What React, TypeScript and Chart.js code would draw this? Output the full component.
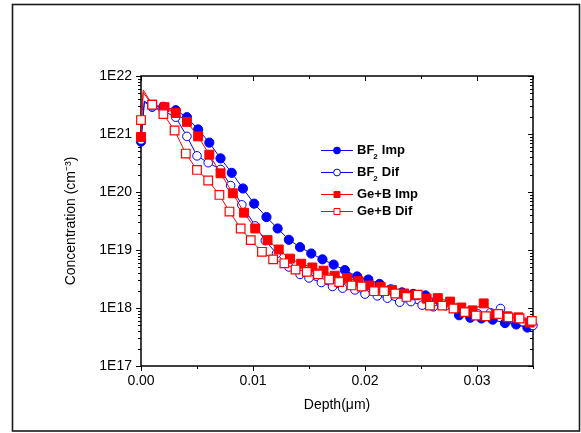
import React, { useEffect, useRef } from 'react';
import { Chart, registerables } from 'chart.js';

Chart.register(...registerables);

// ---- data (depth in µm, concentration in cm^-3) ----
const bf2ImpDepth = [0, 0.0003, 0.001, 0.002, 0.0031, 0.0041, 0.0051, 0.0061, 0.0071, 0.0081, 0.0091, 0.0101, 0.0112, 0.0122, 0.0132, 0.0142, 0.0152, 0.0162, 0.0172, 0.0182, 0.0193, 0.0203, 0.0213, 0.0223, 0.0233, 0.0243, 0.0254, 0.0264, 0.0274, 0.0284, 0.0294, 0.0304, 0.0314, 0.0325, 0.0335, 0.0345];
const bf2ImpConc = [7.4e20, 3.7e21, 2.95e21, 2.95e21, 2.57e21, 1.95e21, 1.2e21, 7.1e20, 3.8e20, 2.14e20, 1.15e20, 6.3e19, 3.7e19, 2.35e19, 1.5e19, 1.12e19, 8.7e18, 6.9e18, 5.6e18, 4.5e18, 3.5e18, 3.1e18, 2.6e18, 2.1e18, 1.86e18, 1.75e18, 1.65e18, 1.35e18, 1.15e18, 7.5e17, 6.8e17, 6.6e17, 6.3e17, 5.5e17, 5.2e17, 4.6e17];

const bf2DifDepth = [0, 0.0003, 0.001, 0.002, 0.0031, 0.0041, 0.005, 0.006, 0.0071, 0.008, 0.009, 0.0102, 0.0111, 0.0121, 0.0132, 0.0142, 0.015, 0.0161, 0.0171, 0.018, 0.0191, 0.02, 0.0211, 0.022, 0.0231, 0.0241, 0.0251, 0.0261, 0.0272, 0.0281, 0.0291, 0.0301, 0.0312, 0.0321, 0.0331, 0.0341, 0.035];
const bf2DifConc = [7.9e20, 3.55e21, 2.95e21, 2.5e21, 1.95e21, 9.1e20, 4.2e20, 3.2e20, 2.45e20, 1.29e20, 6.0e19, 2.6e19, 1.45e19, 8.7e18, 5.1e18, 3.8e18, 3.3e18, 2.75e18, 2.35e18, 2.2e18, 2.05e18, 1.74e18, 1.62e18, 1.48e18, 1.26e18, 1.29e18, 1.12e18, 1.05e18, 1.1e18, 9.8e17, 8.5e17, 7.9e17, 8.3e17, 9.8e17, 6.6e17, 5.8e17, 5.0e17];

const gebImpDepth = [0, 0.0002, 0.001, 0.0021, 0.0031, 0.0041, 0.0051, 0.0061, 0.0071, 0.0082, 0.0092, 0.0102, 0.0113, 0.0123, 0.0133, 0.0143, 0.0153, 0.0163, 0.0173, 0.0184, 0.0194, 0.0204, 0.0214, 0.0224, 0.0235, 0.0245, 0.0255, 0.0265, 0.0276, 0.0286, 0.0296, 0.0306, 0.0317, 0.0327, 0.0337, 0.0347];
const gebImpConc = [8.9e20, 5.2e21, 3.2e21, 2.9e21, 2.3e21, 1.62e21, 9.1e20, 4.4e20, 2.1e20, 9.5e19, 4.4e19, 2.35e19, 1.48e19, 1.02e19, 7.1e18, 5.8e18, 5.0e18, 4.4e18, 3.6e18, 3.3e18, 2.9e18, 2.45e18, 2.3e18, 2.05e18, 1.78e18, 1.66e18, 1.45e18, 1.48e18, 1.29e18, 1.02e18, 9.1e17, 1.2e18, 7.9e17, 7.2e17, 6.9e17, 5.6e17];

const gebDifDepth = [0, 0.0002, 0.001, 0.002, 0.003, 0.004, 0.005, 0.006, 0.007, 0.0079, 0.0089, 0.0098, 0.0108, 0.0118, 0.0128, 0.0138, 0.0148, 0.0158, 0.0168, 0.0177, 0.0188, 0.0197, 0.0208, 0.0217, 0.0227, 0.0237, 0.0247, 0.0258, 0.0269, 0.0279, 0.0289, 0.0299, 0.0308, 0.0319, 0.0328, 0.0338, 0.0349];
const gebDifConc = [1.74e21, 5.75e21, 3.2e21, 2.2e21, 1.15e21, 4.6e20, 2.4e20, 1.58e20, 8.9e19, 4.6e19, 2.35e19, 1.48e19, 9.3e18, 6.9e18, 5.9e18, 4.6e18, 4.2e18, 3.8e18, 3.1e18, 2.8e18, 2.45e18, 2.35e18, 1.95e18, 1.95e18, 1.78e18, 1.55e18, 1.7e18, 1.1e18, 1.1e18, 9.8e17, 8.5e17, 7.4e17, 7.2e17, 7.9e17, 6.9e17, 6.6e17, 6.0e17];

const seriesLabels = ['BF₂ Imp', 'BF₂ Dif', 'Ge+B Imp', 'Ge+B Dif'];
const legendMain = ['BF', 'BF', 'Ge+B Imp', 'Ge+B Dif'];
const legendSub = ['2', '2', '', ''];
const legendRest = ['Imp', 'Dif', '', ''];

const xTickValues = [0, 0.01, 0.02, 0.03];
const xTickLabels = ['0.00', '0.01', '0.02', '0.03'];
const xMinorValues = [0.005, 0.015, 0.025, 0.035];
const yTickValues = [1e17, 1e18, 1e19, 1e20, 1e21, 1e22];
const yTickLabels = ['1E17', '1E18', '1E19', '1E20', '1E21', '1E22'];
const yMinorMultipliers = [2, 3, 4, 5, 6, 7, 8, 9];

const xTitle = 'Depth(μm)';
const yTitle = 'Concentration (cm⁻³)';

const BLUE = '#0000ff';
const RED = '#ff0000';
const FONT = "'Liberation Sans', Arial, sans-serif";

function toPoints(xs: number[], ys: number[]) {
  return xs.map((x, i) => ({ x, y: ys[i] }));
}

// marker hidden at the near-surface peak sample (index 1)
const radiusFn = (r: number) => (ctx: any) => (ctx.dataIndex === 1 ? 0 : r);

const drawMarker = (ctx: CanvasRenderingContext2D, kind: string, cx: number, cy: number, color: string, filled: boolean) => {
  ctx.save();
  ctx.lineWidth = 1;
  ctx.strokeStyle = color;
  ctx.fillStyle = filled ? color : '#ffffff';
  ctx.beginPath();
  if (kind === 'circle') {
    ctx.arc(cx, cy, 3.4, 0, Math.PI * 2);
  } else {
    ctx.rect(cx - 3, cy - 3, 6, 6);
  }
  ctx.fill();
  ctx.stroke();
  ctx.restore();
};

const chartPlugin = {
  id: 'originFrame',
  beforeDraw(chart: any) {
    const ctx = chart.ctx as CanvasRenderingContext2D;
    ctx.save();
    ctx.fillStyle = '#ffffff';
    ctx.fillRect(0, 0, chart.width, chart.height);
    ctx.strokeStyle = '#1a1a1a';
    ctx.lineWidth = 1.6;
    ctx.strokeRect(12.5, 4.5, 567, 426.5);
    ctx.restore();
  },
  beforeDatasetsDraw(chart: any) {
    const ctx = chart.ctx as CanvasRenderingContext2D;
    const a = chart.chartArea;
    const x = chart.scales.x;
    const y = chart.scales.y;
    ctx.save();
    ctx.strokeStyle = '#000000';
    ctx.lineWidth = 1.5;
    ctx.strokeRect(a.left, a.top, a.right - a.left, a.bottom - a.top);
    ctx.lineWidth = 1;
    ctx.beginPath();
    const yTick = (v: number, len: number) => {
      const py = Math.round(y.getPixelForValue(v)) + 0.5;
      ctx.moveTo(a.left - len, py);
      ctx.lineTo(a.left, py);
      ctx.moveTo(a.right, py);
      ctx.lineTo(a.right - len, py);
    };
    const xTick = (v: number, len: number) => {
      const px = Math.round(x.getPixelForValue(v)) + 0.5;
      ctx.moveTo(px, a.bottom);
      ctx.lineTo(px, a.bottom + len);
      ctx.moveTo(px, a.top);
      ctx.lineTo(px, a.top + len);
    };
    yTickValues.forEach((v) => yTick(v, 5));
    for (let d = 0; d < yTickValues.length - 1; d++) {
      yMinorMultipliers.forEach((m) => yTick(yTickValues[d] * m, 3));
    }
    xTickValues.forEach((v) => xTick(v, 5));
    xMinorValues.forEach((v) => xTick(v, 3));
    ctx.stroke();
    ctx.restore();
  },
  afterDraw(chart: any) {
    const ctx = chart.ctx as CanvasRenderingContext2D;
    const rows = [150, 172, 194, 211];
    const colors = [BLUE, BLUE, RED, RED];
    const kinds = ['circle', 'circle', 'rect', 'rect'];
    const filled = [true, false, true, false];
    const lineX0 = 321;
    const lineX1 = 353;
    const textX = 357;
    ctx.save();
    rows.forEach((ry, i) => {
      ctx.strokeStyle = colors[i];
      ctx.lineWidth = 1;
      ctx.beginPath();
      ctx.moveTo(lineX0, ry + 0.5);
      ctx.lineTo(lineX1, ry + 0.5);
      ctx.stroke();
      drawMarker(ctx, kinds[i], (lineX0 + lineX1) / 2, ry + 0.5, colors[i], filled[i]);
      ctx.fillStyle = '#000000';
      ctx.textBaseline = 'middle';
      ctx.textAlign = 'left';
      ctx.font = `bold 13px ${FONT}`;
      ctx.fillText(legendMain[i], textX, ry);
      let cx = textX + ctx.measureText(legendMain[i]).width;
      if (legendSub[i]) {
        ctx.font = `bold 8px ${FONT}`;
        ctx.fillText(legendSub[i], cx - 1, ry + 7);
        cx += ctx.measureText(legendSub[i]).width + 3;
        ctx.font = `bold 13px ${FONT}`;
        ctx.fillText(legendRest[i], cx, ry);
      }
    });
    ctx.restore();
  },
};

export default function App() {
  const canvasRef = useRef<HTMLCanvasElement | null>(null);

  useEffect(() => {
    const canvas = canvasRef.current;
    if (!canvas) return;
    const chart = new Chart(canvas, {
      type: 'line',
      data: {
        datasets: [
          {
            label: seriesLabels[0],
            data: toPoints(bf2ImpDepth, bf2ImpConc),
            borderColor: BLUE,
            borderWidth: 1,
            backgroundColor: BLUE,
            pointStyle: 'circle',
            pointRadius: radiusFn(4.6),
            pointBackgroundColor: BLUE,
            pointBorderColor: BLUE,
            pointBorderWidth: 1,
            order: 4,
            clip: false as any,
          },
          {
            label: seriesLabels[1],
            data: toPoints(bf2DifDepth, bf2DifConc),
            borderColor: BLUE,
            borderWidth: 1,
            backgroundColor: '#ffffff',
            pointStyle: 'circle',
            pointRadius: radiusFn(4.3),
            pointBackgroundColor: '#ffffff',
            pointBorderColor: BLUE,
            pointBorderWidth: 1,
            order: 3,
            clip: false as any,
          },
          {
            label: seriesLabels[2],
            data: toPoints(gebImpDepth, gebImpConc),
            borderColor: RED,
            borderWidth: 1,
            backgroundColor: RED,
            pointStyle: 'rect',
            pointRadius: radiusFn(6.3),
            pointBackgroundColor: RED,
            pointBorderColor: RED,
            pointBorderWidth: 1,
            order: 2,
            clip: false as any,
          },
          {
            label: seriesLabels[3],
            data: toPoints(gebDifDepth, gebDifConc),
            borderColor: RED,
            borderWidth: 1,
            backgroundColor: '#ffffff',
            pointStyle: 'rect',
            pointRadius: radiusFn(6.1),
            pointBackgroundColor: '#ffffff',
            pointBorderColor: RED,
            pointBorderWidth: 1.2,
            order: 1,
            clip: false as any,
          },
        ],
      },
      options: {
        responsive: false,
        animation: false,
        events: [],
        layout: { padding: { left: 0, top: 76, right: 48, bottom: 0 } },
        plugins: {
          legend: { display: false },
          tooltip: { enabled: false },
        },
        elements: { line: { tension: 0 } },
        scales: {
          x: {
            type: 'linear',
            min: 0,
            max: 0.035,
            grid: { display: true, drawOnChartArea: false, drawTicks: false },
            border: { display: false },
            afterBuildTicks: (scale: any) => {
              scale.ticks = xTickValues.map((v) => ({ value: v }));
            },
            afterFit: (scale: any) => {
              scale.height = 67;
            },
            ticks: {
              padding: 7,
              color: '#000000',
              font: { family: FONT, size: 14 },
              autoSkip: false,
              maxRotation: 0,
              callback: (v: any) => {
                const i = xTickValues.indexOf(Number(v));
                return i >= 0 ? xTickLabels[i] : '';
              },
            },
            title: {
              display: true,
              text: xTitle,
              color: '#000000',
              font: { family: FONT, size: 14 },
              padding: { top: 0, bottom: 19 },
            },
          },
          y: {
            type: 'logarithmic',
            min: 1e17,
            max: 1e22,
            grid: { display: true, drawOnChartArea: false, drawTicks: false },
            border: { display: false },
            afterBuildTicks: (scale: any) => {
              scale.ticks = yTickValues.map((v) => ({ value: v, major: true }));
            },
            afterFit: (scale: any) => {
              scale.width = 141;
            },
            ticks: {
              padding: 9,
              color: '#000000',
              font: { family: FONT, size: 14 },
              autoSkip: false,
              callback: (v: any) => {
                const i = yTickValues.indexOf(Number(v));
                return i >= 0 ? yTickLabels[i] : '';
              },
            },
            title: {
              display: true,
              text: yTitle,
              color: '#000000',
              font: { family: FONT, size: 14 },
              padding: { top: 63, bottom: 0 },
            },
          },
        },
      },
      plugins: [chartPlugin],
    } as any);
    return () => chart.destroy();
  }, []);

  return (
    <div style={{ position: 'absolute', left: 0, top: 0, width: 581, height: 433, background: '#ffffff' }}>
      <canvas ref={canvasRef} width={581} height={433} style={{ display: 'block' }} />
    </div>
  );
}
